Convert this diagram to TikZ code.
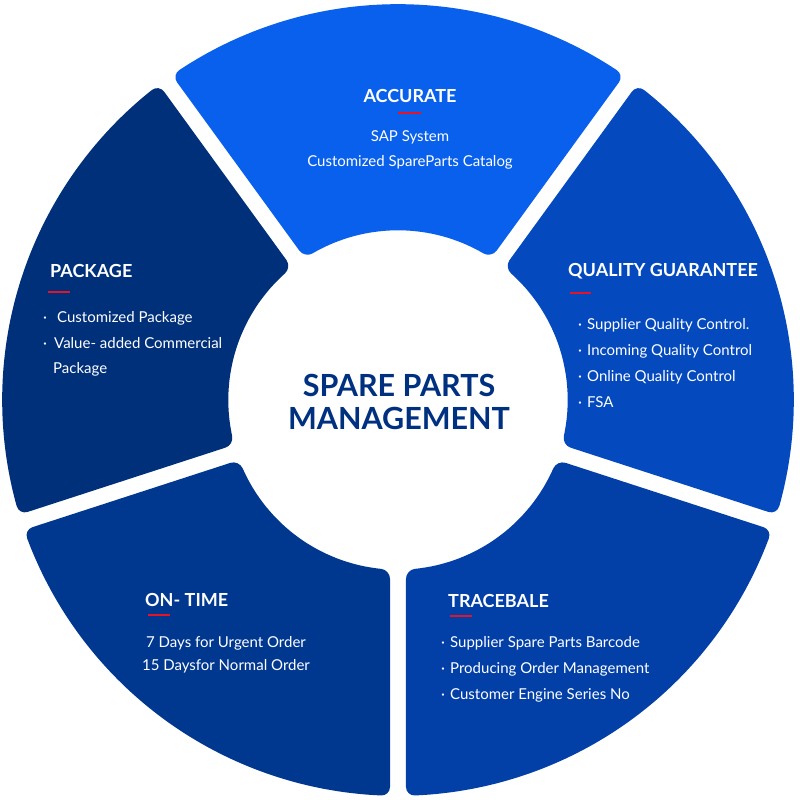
\documentclass[tikz,border=0pt]{standalone}
\usepackage{fontspec}
\setmainfont{Lato}
\definecolor{cAcc}{RGB}{8,96,236}
\definecolor{cQua}{RGB}{4,74,190}
\definecolor{cTra}{RGB}{2,64,168}
\definecolor{cOnt}{RGB}{0,56,144}
\definecolor{cPac}{RGB}{0,48,122}
\definecolor{cNavy}{RGB}{0,48,128}
\definecolor{cRed}{RGB}{225,20,40}
\def\Ri{170}\def\Ro{396}\def\hg{8}
\newcommand\mysector[2]{%
  \pgfmathsetmacro\oa{#1+asin(\hg/\Ro)}%
  \pgfmathsetmacro\ob{#1+72-asin(\hg/\Ro)}%
  \pgfmathsetmacro\ia{#1+asin(\hg/\Ri)}%
  \pgfmathsetmacro\ib{#1+72-asin(\hg/\Ri)}%
  \fill[#2, rounded corners=9pt] (\ia:\Ri) -- (\oa:\Ro)
    foreach \k in {1,...,20}{ -- ({\oa+(\ob-\oa)*\k/20}:\Ro)}
    -- (\ib:\Ri)
    foreach \k in {1,...,9}{ -- ({\ib-(\ib-\ia)*\k/10}:\Ri)}
    -- cycle;%
}
\newcommand\bul[2]{\makebox[#1][l]{·}#2}
\tikzset{
  ttl/.style={font=\fontsize{18}{20}\selectfont\bfseries, text=white, inner sep=0pt},
  bdy/.style={font=\fontsize{15}{17}\selectfont, text=white, inner sep=0pt},
  ctr/.style={font=\fontsize{30.5}{34}\selectfont\bfseries, text=cNavy, inner sep=0pt, anchor=base},
  uline/.style={draw=cRed, line width=1.6pt}
}
\begin{document}
\begin{tikzpicture}[x=1pt,y=1pt]
\fill[white] (-398,-400) rectangle (402,400);
\useasboundingbox (-398,-400) rectangle (402,400);

\mysector{54}{cAcc}
\mysector{126}{cPac}
\mysector{198}{cOnt}
\mysector{270}{cTra}
\mysector{-18}{cQua}

% ACCURATE
\node[ttl, anchor=base] (accT) at (12,297) {ACCURATE};
\coordinate (accU1) at (0,287); \coordinate (accU2) at (23,287);
\draw[uline] (accU1) -- (accU2);
\node[bdy, anchor=base] (acc1) at (12,258) {SAP System};
\node[bdy, anchor=base] (acc2) at (12,233) {Customized SpareParts Catalog};

% PACKAGE
\node[ttl, anchor=base west] (pacT) at (-348,122) {PACKAGE};
\coordinate (pacU1) at (-350,108); \coordinate (pacU2) at (-328,108);
\draw[uline] (pacU1) -- (pacU2);
\node[bdy, anchor=base west] (pac1) at (-355,77) {\bul{14pt}{Customized Package}};
\node[bdy, anchor=base west] (pac2) at (-355,51) {\bul{11pt}{Value- added Commercial}};
\node[bdy, anchor=base west] (pac3) at (-345,27) {Package};

% QUALITY GUARANTEE
\node[ttl, anchor=base west] (quaT) at (170,123) {QUALITY GUARANTEE};
\coordinate (quaU1) at (172,107); \coordinate (quaU2) at (193,107);
\draw[uline] (quaU1) -- (quaU2);
\node[bdy, anchor=base west] (qua1) at (180,70) {\bul{9pt}{Supplier Quality Control.}};
\node[bdy, anchor=base west] (qua2) at (180,44) {\bul{9pt}{Incoming Quality Control}};
\node[bdy, anchor=base west] (qua3) at (180,18) {\bul{9pt}{Online Quality Control}};
\node[bdy, anchor=base west] (qua4) at (180,-7) {\bul{9pt}{FSA}};

% ON-TIME
\node[ttl, anchor=base west] (ontT) at (-253,-206) {ON- TIME};
\coordinate (ontU1) at (-250,-215); \coordinate (ontU2) at (-228,-215);
\draw[uline] (ontU1) -- (ontU2);
\node[bdy, anchor=base] (ont1) at (-172,-247) {7 Days for Urgent Order};
\node[bdy, anchor=base] (ont2) at (-172,-270) {15 Daysfor Normal Order};

% TRACEBALE
\node[ttl, anchor=base west] (traT) at (50,-207) {TRACEBALE};
\coordinate (traU1) at (52,-216); \coordinate (traU2) at (74,-216);
\draw[uline] (traU1) -- (traU2);
\node[bdy, anchor=base west] (tra1) at (43,-247) {\bul{9pt}{Supplier Spare Parts Barcode}};
\node[bdy, anchor=base west] (tra2) at (43,-273) {\bul{9pt}{Producing Order Management}};
\node[bdy, anchor=base west] (tra3) at (43,-299) {\bul{9pt}{Customer Engine Series No}};

% Centre
\node[ctr] (cen1) at (1,3) {SPARE PARTS};
\node[ctr] (cen2) at (1,-29) {MANAGEMENT};
\end{tikzpicture}
\end{document}
